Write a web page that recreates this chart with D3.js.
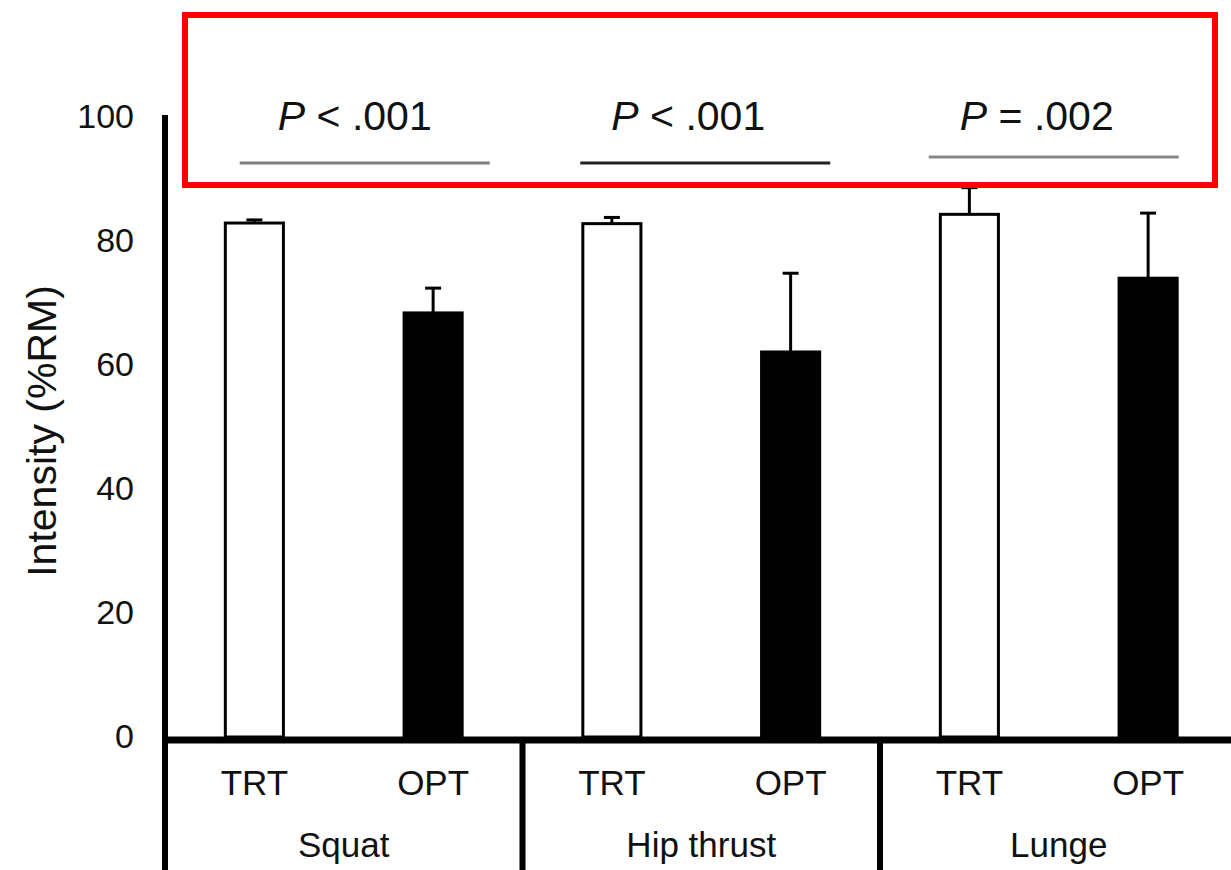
<!DOCTYPE html>
<html>
<head>
<meta charset="utf-8">
<script src="https://cdn.jsdelivr.net/npm/d3@7"></script>
<style>
  body { margin: 0; background: #fff; }
  svg { display: block; font-family: "Liberation Sans", Arial, sans-serif; }
</style>
</head>
<body>
<svg id="chart"></svg>
<script>
// data
var exercises = ["Squat", "Hip thrust", "Lunge"];
var conditions = ["TRT", "OPT"];
var trtMean = [82.9, 82.8, 84.3];
var trtSD = [0.5, 1.0, 4.3];
var optMean = [68.4, 62.1, 74.0];
var optSD = [4.0, 12.7, 10.5];
var pLabels = [["P", " < .001"], ["P", " < .001"], ["P", " = .002"]];
var yTicks = [0, 20, 40, 60, 80, 100];

var width = 1231, height = 870;
var svg = d3.select("#chart").attr("width", width).attr("height", height);

var y = d3.scaleLinear().domain([0, 100]).range([737, 117]);

var x0 = d3.scaleBand().domain(exercises).range([165, 1237.5]).padding(0);
var x1 = d3.scaleBand().domain(conditions).range([0, x0.bandwidth()])
  .paddingInner(0.675).paddingOuter(0.3375);

var rows = [];
exercises.forEach(function(ex, i) {
  rows.push({ex: ex, cond: "TRT", mean: trtMean[i], sd: trtSD[i]});
  rows.push({ex: ex, cond: "OPT", mean: optMean[i], sd: optSD[i]});
});

function cx(d) { return x0(d.ex) + x1(d.cond) + x1.bandwidth() / 2; }

// error bars (drawn first so the bar covers the base)
var err = svg.append("g").attr("stroke", "#000").attr("stroke-width", 3);
err.selectAll("line.v").data(rows).enter().append("line")
  .attr("x1", cx).attr("x2", cx)
  .attr("y1", function(d) { return y(d.mean); })
  .attr("y2", function(d) { return y(d.mean + d.sd); });
err.selectAll("line.c").data(rows).enter().append("line")
  .attr("x1", function(d) { return cx(d) - 8; })
  .attr("x2", function(d) { return cx(d) + 8; })
  .attr("y1", function(d) { return y(d.mean + d.sd); })
  .attr("y2", function(d) { return y(d.mean + d.sd); });

// bars
svg.append("g").selectAll("rect").data(rows).enter().append("rect")
  .attr("x", function(d) { return x0(d.ex) + x1(d.cond); })
  .attr("y", function(d) { return y(d.mean); })
  .attr("width", x1.bandwidth())
  .attr("height", function(d) { return y(0) - y(d.mean); })
  .attr("fill", function(d) { return d.cond == "TRT" ? "#fff" : "#000"; })
  .attr("stroke", "#000")
  .attr("stroke-width", 3);

// y axis
var yAxis = svg.append("g")
  .attr("transform", "translate(165,0)")
  .call(d3.axisLeft(y).tickValues(yTicks).tickSize(0).tickPadding(31));
yAxis.select(".domain").attr("stroke", "#000").attr("stroke-width", 6)
  .attr("d", "M0," + (y(0) + 3) + "V" + (y(100) - 2));
yAxis.selectAll("text").attr("font-size", 34).attr("fill", "#111")
  .attr("font-family", "Liberation Sans, Arial, sans-serif");

svg.append("text")
  .attr("transform", "translate(56,431) rotate(-90)")
  .attr("text-anchor", "middle")
  .attr("font-size", 41)
  .attr("fill", "#111")
  .text("Intensity (%RM)");

// bottom category axis
svg.append("line")
  .attr("x1", 162).attr("x2", width)
  .attr("y1", y(0) + 3).attr("y2", y(0) + 3)
  .attr("stroke", "#000").attr("stroke-width", 7);

svg.append("g").selectAll("line").data(exercises).enter().append("line")
  .attr("x1", function(d) { return x0(d); })
  .attr("x2", function(d) { return x0(d); })
  .attr("y1", y(0)).attr("y2", height)
  .attr("stroke", "#000").attr("stroke-width", 6);

svg.append("g").selectAll("text").data(rows).enter().append("text")
  .attr("x", cx).attr("y", 795)
  .attr("text-anchor", "middle")
  .attr("font-size", 35).attr("fill", "#111")
  .text(function(d) { return d.cond; });

svg.append("g").selectAll("text").data(exercises).enter().append("text")
  .attr("x", function(d) { return x0(d) + x0.bandwidth() / 2; })
  .attr("y", 857)
  .attr("text-anchor", "middle")
  .attr("font-size", 35).attr("fill", "#111")
  .text(function(d) { return d; });

// significance annotations
var sigLineShift = [21, 4, -5], sigTextShift = [11, -13, -22];
var sigLineY = [163, 163, 157], sigLineColor = ["#808080", "#222", "#888"];
exercises.forEach(function(ex, i) {
  var mid = x0(ex) + x0.bandwidth() / 2;
  svg.append("line")
    .attr("x1", mid + sigLineShift[i] - 125).attr("x2", mid + sigLineShift[i] + 125)
    .attr("y1", sigLineY[i]).attr("y2", sigLineY[i])
    .attr("stroke", sigLineColor[i]).attr("stroke-width", 3);
  var t = svg.append("text")
    .attr("x", mid + sigTextShift[i]).attr("y", 130)
    .attr("text-anchor", "middle")
    .attr("font-size", 41).attr("fill", "#111");
  t.append("tspan").attr("font-style", "italic").text(pLabels[i][0]);
  t.append("tspan").text(pLabels[i][1]);
});

// red highlight box
svg.append("rect")
  .attr("x", 185).attr("y", 15).attr("width", 1030).attr("height", 170)
  .attr("fill", "none").attr("stroke", "#ff0000").attr("stroke-width", 6);
</script>
</body>
</html>
